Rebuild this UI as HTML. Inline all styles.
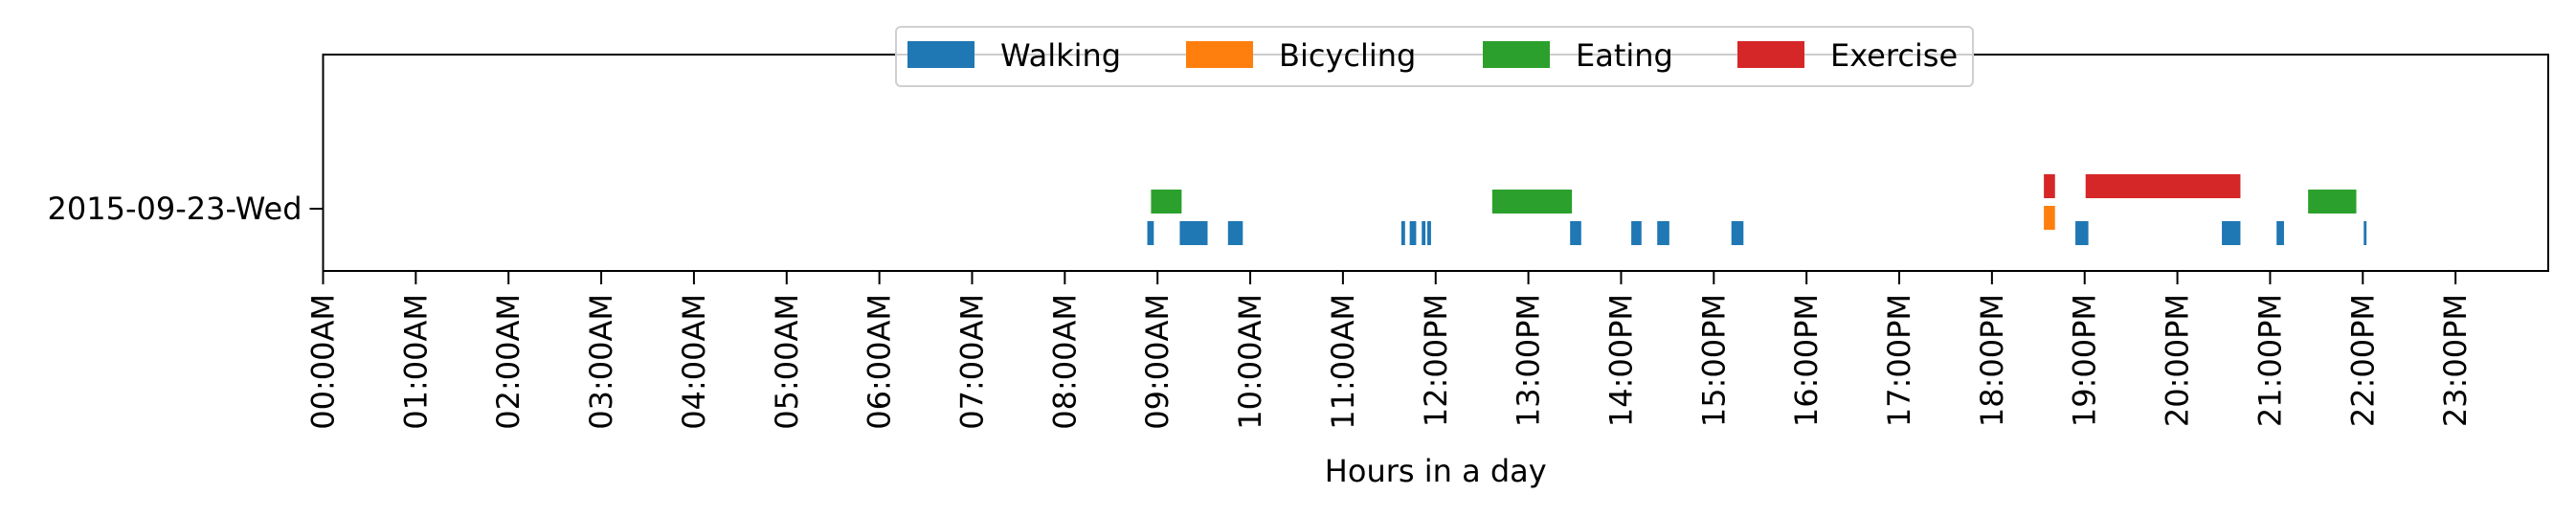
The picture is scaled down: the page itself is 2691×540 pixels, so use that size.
<!DOCTYPE html>
<html><head><meta charset="utf-8">
<style>
html,body{margin:0;padding:0;background:#fff;}
svg{display:block;font-family:"DejaVu Sans","Liberation Sans",sans-serif;}
</style></head>
<body>
<svg id="chart" width="2691" height="540" viewBox="0 0 2691 540" xmlns="http://www.w3.org/2000/svg">
<g id="marks"></g>
<g id="axes"></g>
<g id="legend"></g>
</svg>
<script>
const hourLabels = ["00:00AM","01:00AM","02:00AM","03:00AM","04:00AM","05:00AM","06:00AM","07:00AM","08:00AM","09:00AM","10:00AM","11:00AM","12:00PM","13:00PM","14:00PM","15:00PM","16:00PM","17:00PM","18:00PM","19:00PM","20:00PM","21:00PM","22:00PM","23:00PM"];
const dayLabel = "2015-09-23-Wed";
const categories = ["Walking","Bicycling","Eating","Exercise"];
const walkingStarts = [8.89, 9.24, 9.76, 11.63, 11.72, 11.85, 11.91, 13.45, 14.11, 14.39, 15.19, 18.90, 20.48, 21.07, 22.01];
const walkingEnds   = [8.96, 9.54, 9.92, 11.67, 11.79, 11.89, 11.95, 13.57, 14.22, 14.52, 15.32, 19.04, 20.68, 21.15, 22.04];
const bicyclingStarts = [18.56];
const bicyclingEnds   = [18.68];
const eatingStarts = [8.93, 12.61, 21.41];
const eatingEnds   = [9.26, 13.47, 21.93];
const exerciseStarts = [18.56, 19.01];
const exerciseEnds   = [18.68, 20.68];

const NS="http://www.w3.org/2000/svg";
const L=337.5,R=2662,T=57,B=283;
const xMin=0,xMax=24;
const FS=32;
function xs(h){return L+(h-xMin)/(xMax-xMin)*(R-L);}
const colors={Walking:"#1f77b4",Bicycling:"#ff7f0e",Eating:"#2ca02c",Exercise:"#d62728"};
const bandTop={Walking:231,Bicycling:215,Eating:198,Exercise:182};
const bandH=25;
function mk(tag,attrs,parent){const e=document.createElementNS(NS,tag);for(const k in attrs)e.setAttribute(k,attrs[k]);parent.appendChild(e);return e;}
const marks=document.getElementById('marks');
const series={Walking:[walkingStarts,walkingEnds],Bicycling:[bicyclingStarts,bicyclingEnds],Eating:[eatingStarts,eatingEnds],Exercise:[exerciseStarts,exerciseEnds]};
categories.forEach(c=>{
  const [s,e]=series[c];
  for(let i=0;i<s.length;i++){
    const r=mk('rect',{x:xs(s[i]),y:bandTop[c],width:Math.max(1.5,xs(e[i])-xs(s[i])),height:bandH,fill:colors[c]},marks);
    
    
  }
});
const axes=document.getElementById('axes');
const frame=mk('rect',{x:L,y:T,width:R-L,height:B-T,fill:"none",stroke:"#000","stroke-width":2},axes);


hourLabels.forEach((lab,i)=>{
  const x=xs(i);
  const t=mk('line',{x1:x,y1:B,x2:x,y2:B+14,stroke:"#000","stroke-width":2},axes);
  
  
  const tx=mk('text',{x:0,y:0,"font-size":FS,"text-anchor":"end","dominant-baseline":"central",transform:`translate(${x},${B+24}) rotate(-90)`},axes);
  tx.textContent=lab;
  
  
});
const yt=mk('line',{x1:L-14,y1:218,x2:L,y2:218,stroke:"#000","stroke-width":2},axes);


const yl=mk('text',{x:L-22,y:218,"font-size":FS,"text-anchor":"end","dominant-baseline":"central"},axes);
yl.textContent=dayLabel;


const xl=mk('text',{x:(L+R)/2,y:503,"font-size":FS,"text-anchor":"middle"},axes);
xl.textContent="Hours in a day";


const leg=document.getElementById('legend');
const lb=mk('rect',{x:936,y:28,width:1125,height:62,rx:5,fill:"#fff","fill-opacity":0.8,stroke:"#d0d0d0","stroke-width":2},leg);


const swX=[948,1239,1549,1815];
categories.forEach((c,i)=>{
  const s=mk('rect',{x:swX[i],y:43,width:70,height:28,fill:colors[c]},leg);
  
  
  const t=mk('text',{x:swX[i]+97,y:58,"font-size":FS,"dominant-baseline":"central"},leg);
  t.textContent=c;
  
  
});
</script>
</body></html>
